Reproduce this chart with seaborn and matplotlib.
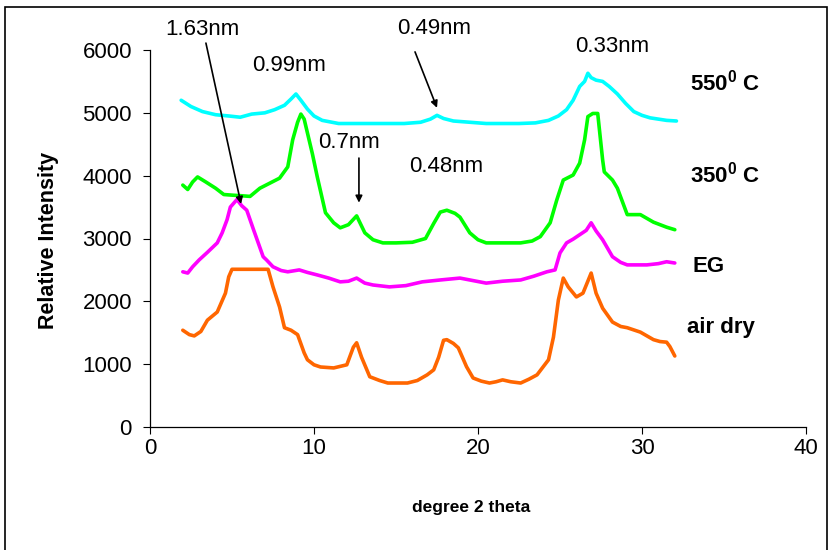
import matplotlib
matplotlib.use("Agg")
import matplotlib.pyplot as plt
import seaborn as sns
import pandas as pd
from matplotlib.patches import Rectangle

# degree 2 theta / relative intensity
air_x = [2.0, 2.4, 2.7, 3.1, 3.5, 4.1, 4.6, 4.8, 5.0, 6.0, 7.2, 7.5, 7.9, 8.2, 8.6, 9.0, 9.4, 9.6, 10.0,
         10.4, 11.2, 12.0, 12.4, 12.6, 12.9, 13.4, 14.0, 14.5, 15.1, 15.7, 16.3, 16.9, 17.3, 17.6, 17.9,
         18.1, 18.5, 18.8, 19.3, 19.7, 20.2, 20.7, 21.1, 21.5, 22.0, 22.6, 23.1, 23.6, 24.3, 24.6, 24.9,
         25.2, 25.5, 26.0, 26.4, 26.9, 27.2, 27.6, 28.2, 28.7, 29.1, 29.9, 30.7, 31.1, 31.5, 31.7, 32.0]
air_y = [1540, 1470, 1450, 1520, 1700, 1830, 2130, 2390, 2510, 2510, 2510, 2230, 1910, 1580, 1540, 1470, 1180,
         1070, 990, 955, 940, 990, 1270, 1340, 1110, 800, 740, 700, 700, 700, 740, 830, 910, 1110, 1380,
         1390, 1330, 1260, 960, 780, 730, 700, 720, 750, 720, 700, 760, 830, 1070, 1430, 2020, 2370, 2230,
         2070, 2130, 2450, 2130, 1890, 1670, 1600, 1580, 1510, 1390, 1360, 1350, 1280, 1130]

eg_x = [2.0, 2.3, 2.6, 3.0, 3.5, 4.1, 4.4, 4.7, 4.9, 5.3, 5.6, 5.9, 6.3, 6.9, 7.1, 7.5, 8.0, 8.4, 9.1,
        9.6, 10.2, 10.9, 11.6, 12.1, 12.6, 13.1, 13.6, 14.6, 15.6, 16.6, 17.7, 18.9, 19.7, 20.5, 21.5,
        22.6, 23.4, 24.2, 24.7, 25.0, 25.4, 25.8, 26.2, 26.6, 26.9, 27.2, 27.6, 28.2, 28.7, 29.1, 30.3,
        31.0, 31.5, 32.0]
eg_y = [2470, 2450, 2550, 2660, 2780, 2930, 3090, 3300, 3500, 3620, 3520, 3450, 3150, 2710, 2660, 2550, 2490,
        2470, 2500, 2460, 2420, 2370, 2310, 2320, 2370, 2290, 2260, 2230, 2250, 2310, 2340, 2370, 2330,
        2290, 2320, 2340, 2400, 2470, 2500, 2770, 2930, 2990, 3060, 3130, 3250, 3120, 2980, 2710, 2620,
        2580, 2580, 2600, 2630, 2610]

c350_x = [2.0, 2.3, 2.6, 2.9, 3.4, 4.0, 4.5, 5.0, 5.6, 6.1, 6.7, 7.3, 7.9, 8.4, 8.7, 9.0, 9.2, 9.4, 9.6,
          9.9, 10.2, 10.7, 11.2, 11.6, 12.1, 12.6, 13.1, 13.6, 14.2, 15.0, 16.0, 16.8, 17.3, 17.7, 18.1,
          18.6, 18.9, 19.5, 20.0, 20.5, 21.5, 22.6, 23.3, 23.8, 24.4, 24.8, 25.2, 25.8, 26.2, 26.5, 26.7,
          27.0, 27.3, 27.6, 27.7, 28.2, 28.5, 28.7, 29.0, 29.1, 29.9, 30.7, 31.5, 32.0]
c350_y = [3850, 3780, 3900, 3980, 3900, 3800, 3700, 3690, 3680, 3670, 3800, 3880, 3960, 4140, 4570, 4850,
          4980, 4900, 4680, 4350, 3980, 3410, 3250, 3170, 3220, 3360, 3090, 2980, 2930, 2930, 2940, 3000,
          3240, 3420, 3450, 3400, 3340, 3090, 2980, 2930, 2930, 2930, 2960, 3030, 3250, 3610, 3930, 4010,
          4200, 4570, 4940, 4990, 4990, 4250, 4060, 3930, 3800, 3660, 3450, 3380, 3380, 3260, 3180, 3140]

c550_x = [1.9, 2.5, 3.2, 4.0, 4.8, 5.5, 6.2, 7.0, 7.6, 8.2, 8.6, 8.9, 9.2, 9.6, 10.0, 10.5, 11.5, 12.5,
          13.5, 14.5, 15.5, 16.5, 17.1, 17.5, 17.9, 18.5, 19.5, 20.5, 21.5, 22.5, 23.5, 24.3, 24.9, 25.4,
          25.8, 26.2, 26.5, 26.7, 26.9, 27.2, 27.6, 28.0, 28.5, 29.0, 29.5, 30.0, 30.5, 31.0, 31.5, 32.1]
c550_y = [5200, 5100, 5020, 4970, 4950, 4930, 4980, 5000, 5050, 5120, 5220, 5300, 5200, 5060, 4950, 4880,
          4830, 4830, 4830, 4830, 4830, 4850, 4900, 4960, 4910, 4870, 4850, 4830, 4830, 4830, 4840, 4880,
          4950, 5050, 5200, 5420, 5500, 5630, 5560, 5520, 5500, 5420, 5300, 5150, 5020, 4960, 4920, 4900,
          4880, 4870]

series = [("air dry", air_x, air_y, "#FF6600"),
          ("EG", eg_x, eg_y, "#FF00FF"),
          ("350", c350_x, c350_y, "#00FF00"),
          ("550", c550_x, c550_y, "#00FFFF")]

x_ticks = [0, 10, 20, 30, 40]
y_ticks = [0, 1000, 2000, 3000, 4000, 5000, 6000]

sns.set_style("ticks")
plt.rcParams["font.family"] = ["Liberation Sans", "DejaVu Sans"]
plt.rcParams["mathtext.fontset"] = "custom"
plt.rcParams["mathtext.rm"] = "Liberation Sans"
plt.rcParams["mathtext.bf"] = "Liberation Sans:bold"
plt.rcParams["text.color"] = "black"
plt.rcParams["axes.labelcolor"] = "black"
plt.rcParams["xtick.color"] = "black"
plt.rcParams["ytick.color"] = "black"

fig = plt.figure(figsize=(8.32, 5.5), dpi=100)
ax = fig.add_axes([150 / 832, 1 - 427 / 550, 656 / 832, 377 / 550])

for name, xs, ys, color in series:
    df = pd.DataFrame({"theta": xs, "intensity": ys})
    sns.lineplot(data=df, x="theta", y="intensity", color=color, lw=2.6,
                 sort=False, ax=ax, estimator=None)

ax.set_xlim(0, 40)
ax.set_ylim(0, 6000)
ax.set_xticks(x_ticks)
ax.set_yticks(y_ticks)
ax.tick_params(axis="both", labelsize=16, length=5, width=0.8)
ax.tick_params(axis="x", pad=3)
ax.tick_params(axis="y", pad=8)
sns.despine(ax=ax)
for side in ["left", "bottom"]:
    ax.spines[side].set_linewidth(0.9)
    ax.spines[side].set_color("black")

ax.set_xlabel("degree 2 theta", fontsize=12.5, fontweight="bold")
ax.set_ylabel("Relative Intensity", fontsize=15.5, fontweight="bold")
ax.xaxis.set_label_coords(0.489, -0.194)
ax.yaxis.set_label_coords(-0.138, 0.496)

# peak labels
txt = dict(fontsize=16, ha="center", va="center", clip_on=False)
ax.text(3.17, 6320, "1.63nm", **txt)
ax.text(8.48, 5750, "0.99nm", **txt)
ax.text(17.3, 6350, "0.49nm", **txt)
ax.text(28.17, 6050, "0.33nm", **txt)
ax.text(12.13, 4520, "0.7nm", **txt)
ax.text(18.05, 4140, "0.48nm", **txt)

arrow = dict(arrowstyle="-|>", color="black", lw=1.2, mutation_scale=10, shrinkA=0, shrinkB=0)
ax.annotate("", xy=(5.55, 3550), xytext=(3.41, 6110), arrowprops=arrow, annotation_clip=False)
ax.annotate("", xy=(17.5, 5080), xytext=(16.16, 5970), arrowprops=arrow, annotation_clip=False)
ax.annotate("", xy=(12.74, 3570), xytext=(12.74, 4280), arrowprops=arrow, annotation_clip=False)

# series names
lab = dict(fontsize=16, fontweight="bold", ha="left", va="center", clip_on=False)
ax.text(32.9, 5480, r"550$^{\mathbf{0}}$ C", **lab)
ax.text(32.9, 4010, r"350$^{\mathbf{0}}$ C", **lab)
ax.text(33.05, 2560, "EG", **lab)
ax.text(32.74, 1590, "air dry", **lab)

# outer chart frame
fig.patches.append(Rectangle((5 / 832, -0.01), 822 / 832, 1 - 7 / 550 + 0.01,
                             transform=fig.transFigure, fill=False, lw=1.2,
                             edgecolor="black"))

fig.savefig("out.png", dpi=100)
